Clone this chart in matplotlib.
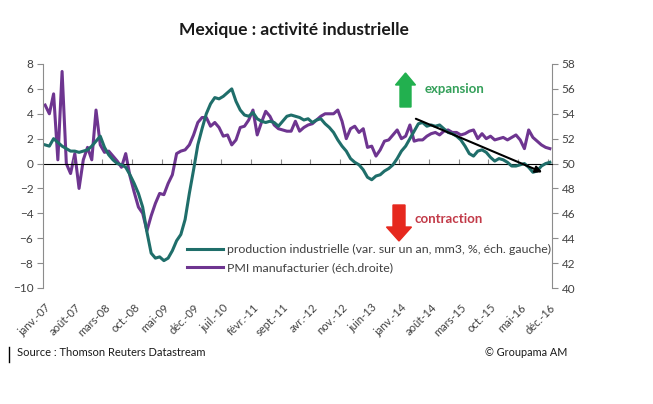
import matplotlib
matplotlib.use("Agg")
import matplotlib.pyplot as plt
import numpy as np
from matplotlib.patches import FancyArrow
from matplotlib.ticker import NullFormatter

plt.rcParams['font.family'] = ['Lato', 'DejaVu Sans']

# monthly data, janv. 2007 -> déc. 2016
production = [1.5, 1.4, 2.0, 1.7, 1.4, 1.2, 1.0, 1.0, 0.9, 1.0, 1.1, 1.4,
              1.8, 2.2, 1.3, 0.7, 0.3, 0.0, -0.1, -0.3, -0.9, -1.6, -2.4, -3.5,
              -5.5, -7.2, -7.6, -7.5, -7.8, -7.6, -7.0, -6.2, -5.7, -4.5, -2.4, -0.5,
              1.5, 2.8, 4.0, 4.8, 5.3, 5.2, 5.4, 5.7, 6.0, 5.0, 4.3, 3.9,
              3.8, 4.1, 3.6, 3.4, 3.3, 3.4, 3.3, 3.0, 3.4, 3.8, 3.9, 3.8,
              3.7, 3.5, 3.6, 3.3, 3.5, 3.6, 3.2, 2.9, 2.5, 1.9, 1.4, 1.0,
              0.4, 0.1, -0.1, -0.5, -1.1, -1.3, -1.0, -0.9, -0.6, -0.4, -0.1, 0.4,
              1.0, 1.4, 2.0, 2.6, 3.2, 3.3, 3.0, 3.1, 3.0, 3.1, 2.8, 2.5,
              2.4, 2.2, 1.9, 1.4, 0.8, 0.6, 1.0, 1.1, 0.9, 0.5, 0.2, 0.4,
              0.3, 0.1, -0.2, -0.2, -0.1, 0.0, -0.3, -0.7, -0.6, -0.2, 0.0, 0.1]

pmi = [54.7, 54.0, 55.6, 50.3, 57.4, 50.0, 49.2, 50.8, 48.0, 50.3, 51.3, 50.3,
       54.3, 51.5, 50.9, 51.0, 50.6, 50.2, 49.7, 50.8, 49.0, 47.7, 46.5, 46.0,
       44.6, 45.8, 46.8, 47.6, 47.5, 48.4, 49.1, 50.8, 51.0, 51.1, 51.5, 52.3,
       53.3, 53.7, 53.7, 53.0, 53.3, 52.9, 52.2, 52.3, 51.5, 51.9, 52.9, 53.0,
       53.5, 54.3, 52.3, 53.3, 54.2, 53.8, 53.1, 52.8, 52.7, 52.6, 52.6, 53.4,
       52.6, 52.9, 53.1, 53.2, 53.5, 53.8, 54.0, 54.0, 54.0, 54.3, 53.4, 52.0,
       52.8, 53.0, 52.5, 52.8, 51.3, 51.4, 50.6, 51.1, 51.8, 51.9, 52.3, 52.7,
       52.0, 52.2, 53.1, 51.8, 51.9, 51.9, 52.2, 52.4, 52.5, 52.3, 52.6, 52.7,
       52.5, 52.5, 52.3, 52.4, 52.6, 52.7, 52.0, 52.4, 52.0, 52.2, 51.9, 52.0,
       52.1, 51.9, 52.1, 52.3, 51.9, 51.2, 52.7, 52.1, 51.8, 51.5, 51.3, 51.2]

tick_labels = ["janv.-07", "août-07", "mars-08", "oct.-08", "mai-09", "déc.-09",
               "juil.-10", "févr.-11", "sept.-11", "avr.-12", "nov.-12", "juin-13",
               "janv.-14", "août-14", "mars-15", "oct.-15", "mai-16", "déc.-16"]

# trend arrow (month index, % value)
trend_start = (87.4, 3.6)
trend_end = (117.2, -0.7)

teal = "#1f6e6a"
purple = "#6e3590"
grey = "#8c8c8c"
txt = "#404040"

fig = plt.figure(figsize=(6.53, 4.04), dpi=100)
ax = fig.add_axes([43 / 653, 1 - 288 / 404, 509 / 653, 224 / 404])
ax2 = ax.twinx()

months = np.arange(len(production))
l1, = ax.plot(months, production, color=teal, lw=2.2,
              label="production industrielle (var. sur un an, mm3, %, éch. gauche)")
l2, = ax2.plot(months, pmi, color=purple, lw=2.2, label="PMI manufacturier (éch.droite)")
ax.set_zorder(ax2.get_zorder() + 1)
ax.patch.set_visible(False)

ax.set_xlim(-0.5, len(production) - 0.5)
ax.set_ylim(-10, 8)
ax2.set_ylim(40, 58)
ax.set_yticks(np.arange(-10, 9, 2))
ax2.set_yticks(np.arange(40, 59, 2))

for s in ["top", "bottom", "right"]:
    ax.spines[s].set_visible(False)
for s in ["top", "bottom", "left"]:
    ax2.spines[s].set_visible(False)
ax.spines["left"].set_color(grey)
ax2.spines["right"].set_color(grey)
ax.tick_params(axis="y", length=4, color=grey, labelsize=8.5, labelcolor=txt, pad=3)
ax2.tick_params(axis="y", length=4, color=grey, labelsize=8.5, labelcolor=txt, pad=3)

label_pos = np.arange(0, len(production), 7)
ax.set_xticks(label_pos)
ax.set_xticklabels(tick_labels, rotation=45, ha="right", rotation_mode="anchor",
                   fontsize=8, color=txt)
ax.tick_params(axis="x", length=0, pad=10)

# zero line with category tick marks
zero_ax = ax.secondary_xaxis(10 / 18)
zero_ax.spines["bottom"].set_linewidth(1.8)
zero_ax.spines["bottom"].set_color("black")
zero_ax.set_xticks(np.arange(6.5, len(production), 7))
zero_ax.xaxis.set_major_formatter(NullFormatter())
zero_ax.tick_params(axis="x", length=3.5, width=0.8, color=grey)

ax.annotate("", xy=trend_end, xytext=trend_start,
            arrowprops=dict(arrowstyle="-|>", color="black", lw=1.5,
                            mutation_scale=10, shrinkA=0, shrinkB=0))

leg = ax.legend(handles=[l1, l2], loc="upper left", frameon=False,
                bbox_to_anchor=(187 / 653, 1 - 244 / 404), bbox_transform=fig.transFigure,
                fontsize=8.9, handlelength=2.9, handletextpad=0.35, labelspacing=0.62,
                borderaxespad=0, borderpad=0)
for t in leg.get_texts():
    t.set_color(txt)

# expansion / contraction markers
fig.patches.append(FancyArrow(405.5 / 653, 1 - 107 / 404, 0, 34 / 404, width=11 / 653,
                              head_width=20 / 653, head_length=12 / 404,
                              length_includes_head=True, color="#22b04f",
                              transform=fig.transFigure))
fig.text(425 / 653, 1 - 89 / 404, "expansion", color="#34a05a", fontsize=9.5,
         fontweight="bold", va="center")
fig.patches.append(FancyArrow(399 / 653, 1 - 205 / 404, 0, -36 / 404, width=12 / 653,
                              head_width=25 / 653, head_length=14 / 404,
                              length_includes_head=True, color="#e6281e",
                              transform=fig.transFigure))
fig.text(415 / 653, 1 - 219 / 404, "contraction", color="#c23a48", fontsize=9.5,
         fontweight="bold", va="center")

fig.text(294 / 653, 1 - 30 / 404, "Mexique : activité industrielle", ha="center",
         va="center", fontsize=12.5, fontweight="bold", color="#1a1a1a")
fig.text(17 / 653, 1 - 352 / 404, "Source : Thomson Reuters Datastream",
         fontsize=8, color="#1a1a1a", va="center")
fig.text(485 / 653, 1 - 352 / 404, "© Groupama AM", fontsize=7.8, color="#1a1a1a",
         va="center")
fig.add_artist(plt.Line2D([9 / 653, 9 / 653], [1 - 347 / 404, 1 - 362 / 404],
                          color="black", lw=1, transform=fig.transFigure))

fig.savefig("out.png", dpi=100)
